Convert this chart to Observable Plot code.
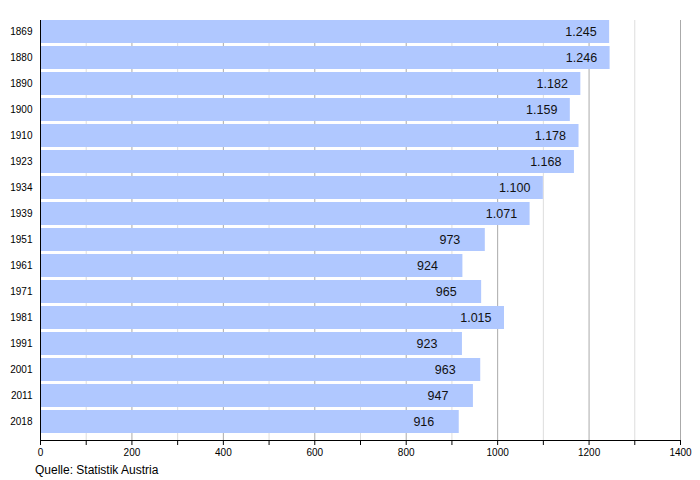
<!DOCTYPE html>
<html><head><meta charset="utf-8">
<script src="https://cdn.jsdelivr.net/npm/d3@7"></script>
<script src="https://cdn.jsdelivr.net/npm/@observablehq/plot@0.6"></script>
<style>
body{margin:0;font-family:"Liberation Sans",Arial,sans-serif;background:#fff;}
#wrap{position:relative;width:700px;height:480px;}
#cap{position:absolute;left:35px;top:463px;font-size:12px;color:#000;}
</style></head><body>
<div id="wrap"><div id="chart"></div><div id="cap">Quelle: Statistik Austria</div></div>
<script>
const years = ["1869","1880","1890","1900","1910","1923","1934","1939","1951","1961","1971","1981","1991","2001","2011","2018"];
const population = [1245,1246,1182,1159,1178,1168,1100,1071,973,924,965,1015,923,963,947,916];
const xTicks = [0,100,200,300,400,500,600,700,800,900,1000,1100,1200,1300,1400];
const xLabels = [0,200,400,600,800,1000,1200,1400];

const data = years.map((y,i)=>({year:y, value:population[i]}));
const de = d3.formatLocale({decimal:",", thousands:".", grouping:[3], currency:["",""]});
const fmt = de.format(",");
const majorGrid = xTicks.filter(t => t>0 && xLabels.includes(t));
const minorGrid = xTicks.filter(t => !xLabels.includes(t));

const chart = Plot.plot({
  width: 700,
  height: 460,
  marginLeft: 40,
  marginRight: 20,
  marginTop: 20,
  marginBottom: 20,
  style: {fontFamily: '"Liberation Sans", Arial, sans-serif', color: "#000", background: "#fff"},
  x: {domain: [0,1400], label: null},
  y: {domain: years, paddingInner: 0.12, paddingOuter: 0.06, align: 0, label: null},
  marks: [
    Plot.ruleX(minorGrid, {x: d=>d, stroke: "#dddddd", strokeWidth: 1}),
    Plot.ruleX(majorGrid, {x: d=>d, stroke: "#aaaaaa", strokeWidth: 1}),
    Plot.barX(data, {x: "value", y: "year", fill: "#b0c8ff"}),
    Plot.text(data.filter(d=>d.value>=1000), {x: "value", y: "year", text: d=>fmt(d.value), textAnchor: "end", dx: -13, fontSize: 12.5, fill: "#111"}),
    Plot.text(data.filter(d=>d.value<1000), {x: "value", y: "year", text: d=>fmt(d.value), textAnchor: "end", dx: -25, fontSize: 12.5, fill: "#111"}),
    Plot.axisX({ticks: xTicks, tickSize: 5, tickPadding: 3, fontSize: 10, label: null, tickFormat: d => xLabels.includes(d) ? String(d) : ""}),
    Plot.axisY({tickSize: 0, tickPadding: 8, fontSize: 10, label: null}),
    Plot.ruleX([0], {stroke: "#000"}),
    Plot.frame({anchor: "bottom", stroke: "#000"})
  ]
});
document.getElementById("chart").append(chart);
</script>
</body></html>
